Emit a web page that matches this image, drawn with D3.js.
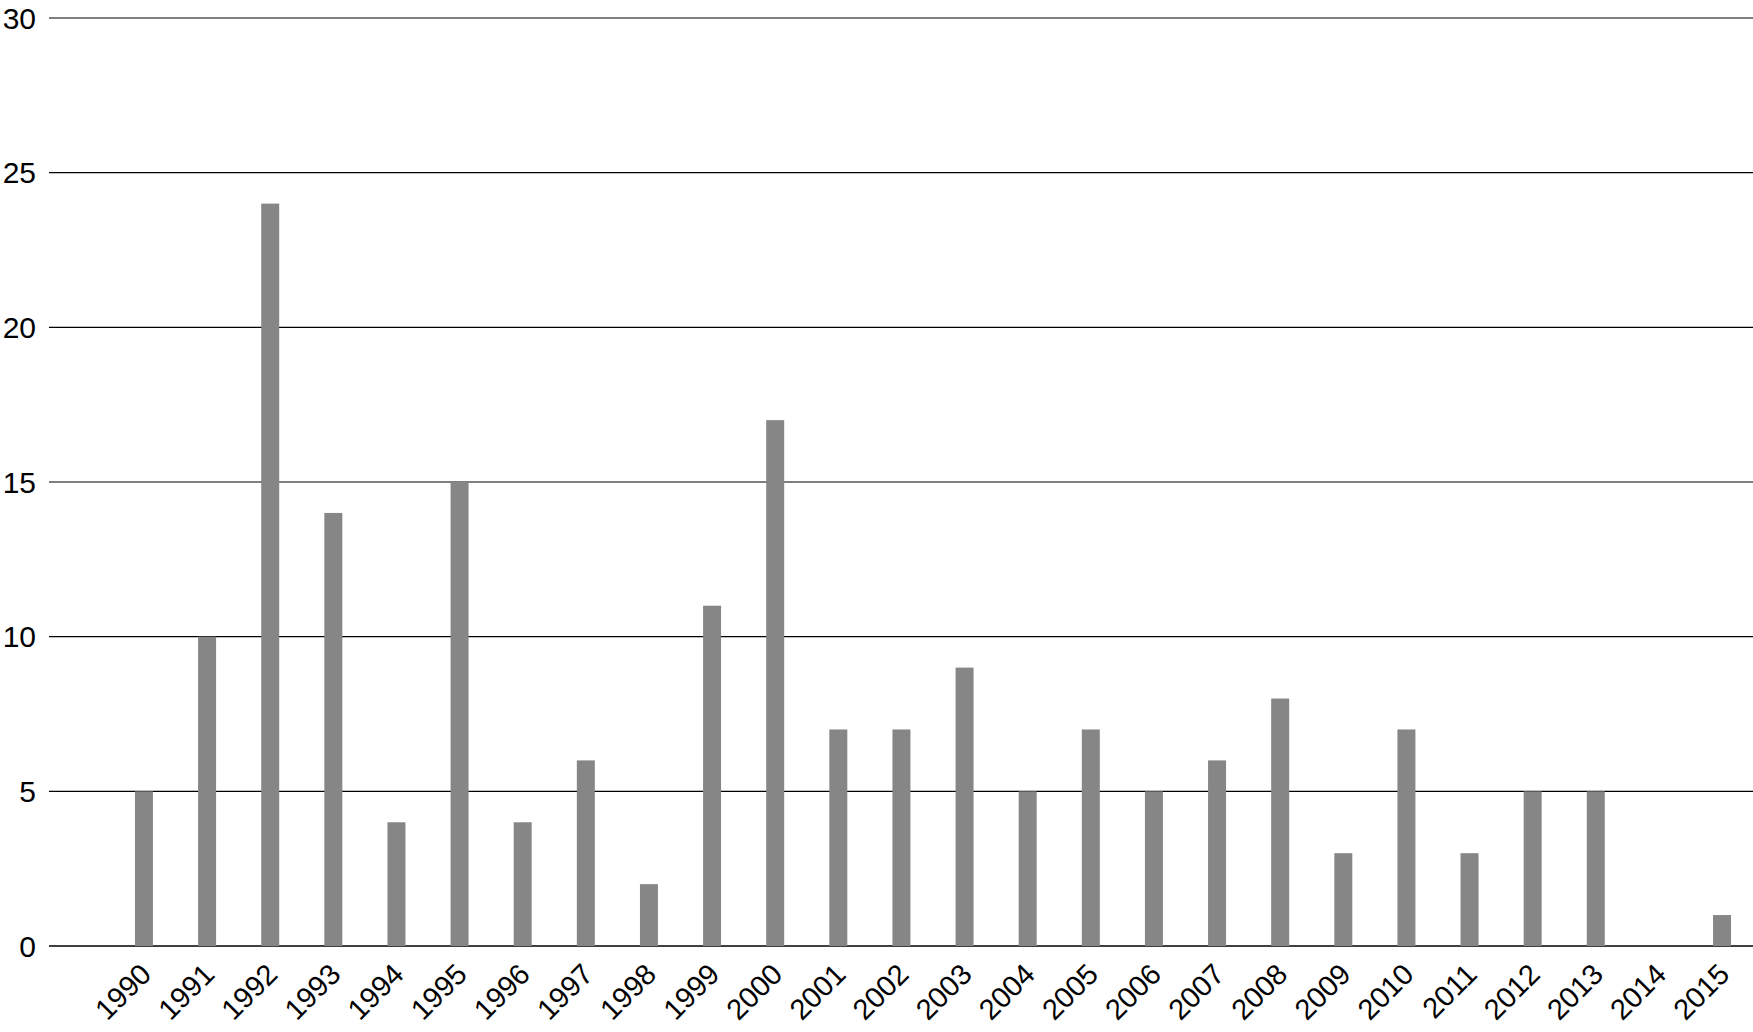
<!DOCTYPE html>
<html>
<head>
<meta charset="utf-8">
<script src="https://cdn.jsdelivr.net/npm/d3@7"></script>
<style>
  html, body { margin: 0; padding: 0; background: #fff; }
  svg { display: block; }
  .tick-label { font-family: "Liberation Sans", Arial, Helvetica, sans-serif; fill: #000; }
</style>
</head>
<body>
<div id="chart"></div>
<script>
const years = ["1990","1991","1992","1993","1994","1995","1996","1997","1998","1999","2000",
  "2001","2002","2003","2004","2005","2006","2007","2008","2009","2010","2011","2012","2013","2014","2015"];
const counts = [5, 10, 24, 14, 4, 15, 4, 6, 2, 11, 17, 7, 7, 9, 5, 7, 5, 6, 8, 3, 7, 3, 5, 5, 0, 1];
const yTicks = [0, 5, 10, 15, 20, 25, 30];

const W = 1753, H = 1032;
const gridLeft = 49;

const svg = d3.select("#chart")
  .append("svg")
  .attr("width", W)
  .attr("height", H);

const y = d3.scaleLinear()
  .domain([0, 30])
  .range([946, 18]);

// band scale: centre of each bar sits in the middle of its step
const x = d3.scaleBand()
  .domain(years)
  .range([112.4, 1753.6])
  .paddingInner(0.715)
  .paddingOuter(0.3575);

// gridlines
svg.append("g")
  .selectAll("line")
  .data(yTicks)
  .join("line")
  .attr("x1", gridLeft)
  .attr("x2", W)
  .attr("y1", d => y(d))
  .attr("y2", d => y(d))
  .attr("stroke", "#000")
  .attr("stroke-width", d => d === 0 ? 1.6 : 1.1);

// y labels
svg.append("g")
  .selectAll("text")
  .data(yTicks)
  .join("text")
  .attr("class", "tick-label")
  .attr("x", 36)
  .attr("y", d => y(d))
  .attr("dy", "0.35em")
  .attr("text-anchor", "end")
  .style("font-size", "30px")
  .text(d => d);

// bars
svg.append("g")
  .selectAll("rect")
  .data(years.map((yr, i) => ({ yr, v: counts[i] })))
  .join("rect")
  .attr("x", d => x(d.yr))
  .attr("width", x.bandwidth())
  .attr("y", d => y(d.v))
  .attr("height", d => y(0) - y(d.v))
  .attr("fill", "#868686");

// x labels, rotated
svg.append("g")
  .selectAll("text")
  .data(years)
  .join("text")
  .attr("class", "tick-label")
  .attr("text-anchor", "end")
  .style("font-size", "29px")
  .attr("transform", d =>
    `translate(${x(d) + x.bandwidth() / 2 + 9}, 976) rotate(-45)`)
  .text(d => d);
</script>
</body>
</html>
